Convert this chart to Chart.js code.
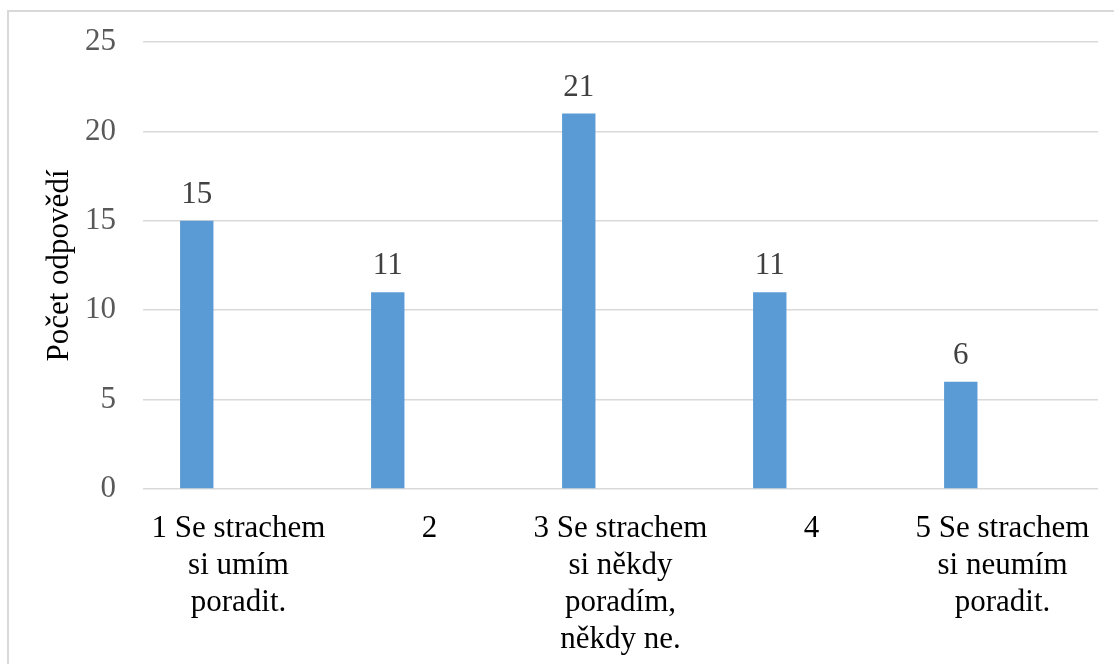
<!DOCTYPE html>
<meta charset="utf-8">
<style>
	body { margin: 0; background: #fff; overflow: hidden; }
	#frame {
		position: absolute; left: 7px; top: 10px;
		width: 1120px; height: 670px;
		border: 2px solid #d9d9d9; border-bottom: none; border-right: none;
	}
	#container { position: absolute; left: 0; top: 1px; width: 1101px; height: 651px; }
</style>
<body>

	<script src="https://cdn.jsdelivr.net/npm/chart.js@4/dist/chart.umd.min.js"></script>

	<div id="frame">
		<div id="container">
			<canvas id="strachChart"></canvas>
		</div>
	</div>

	<script>
		var labels = [
			["1 Se strachem", "si umím", "poradit."],
			"2",
			["3 Se strachem", "si někdy", "poradím,", "někdy ne."],
			"4",
			["5 Se strachem", "si neumím", "poradit."]
		];
		var counts = [15, 11, 21, 11, 6];
		var empty = [null, null, null, null, null];
		var yTitle = "Počet odpovědí";

		var serif = "'Liberation Serif', 'Times New Roman', serif";

		// values written above each bar
		var barValues = {
			id: 'barValues',
			afterDatasetsDraw: function(chart) {
				var ctx = chart.ctx;
				var meta = chart.getDatasetMeta(0);
				ctx.save();
				ctx.font = "31px " + serif;
				ctx.fillStyle = "#404040";
				ctx.textAlign = "center";
				ctx.textBaseline = "alphabetic";
				meta.data.forEach(function(bar, i) {
					ctx.fillText(counts[i], bar.x, bar.y - 18);
				});
				ctx.restore();
			}
		};

		var ctxStrach = document.getElementById("strachChart");
		var myChart = new Chart(ctxStrach, {
			type: 'bar',
			data: {
				labels: labels,
				datasets: [{
					data: counts,
					backgroundColor: '#5b9bd5',
					categoryPercentage: 0.874,
					barPercentage: 0.40
				}, {
					data: empty,
					backgroundColor: '#ed7d31',
					categoryPercentage: 0.874,
					barPercentage: 0.40
				}]
			},
			plugins: [barValues],
			options: {
				responsive: true,
				maintainAspectRatio: false,
				animation: false,
				layout: { padding: { top: 29, right: 12, left: 0, bottom: 0 } },
				plugins: {
					legend: { display: false },
					tooltip: { enabled: false }
				},
				scales: {
					x: {
						grid: { display: false },
						border: { display: false },
						ticks: {
							color: '#000',
							font: { family: serif, size: 31 },
							padding: 13,
							maxRotation: 0,
							autoSkip: false
						},
						afterFit: function(scale) { scale.height = 175; }
					},
					y: {
						min: 0,
						max: 25,
						ticks: {
							stepSize: 5,
							color: '#595959',
							font: { family: serif, size: 31 },
							padding: 27
						},
						grid: { color: '#d9d9d9', lineWidth: 1.5, drawTicks: false },
						border: { display: false },
						title: {
							display: true,
							text: yTitle,
							color: '#000',
							font: { family: serif, size: 31 },
							padding: { top: 32, bottom: 0 }
						},
						afterFit: function(scale) {
							scale.width = 134;
							scale.paddingTop = 0;
							scale.paddingBottom = 0;
						}
					}
				}
			}
		});
	</script>
</body>
